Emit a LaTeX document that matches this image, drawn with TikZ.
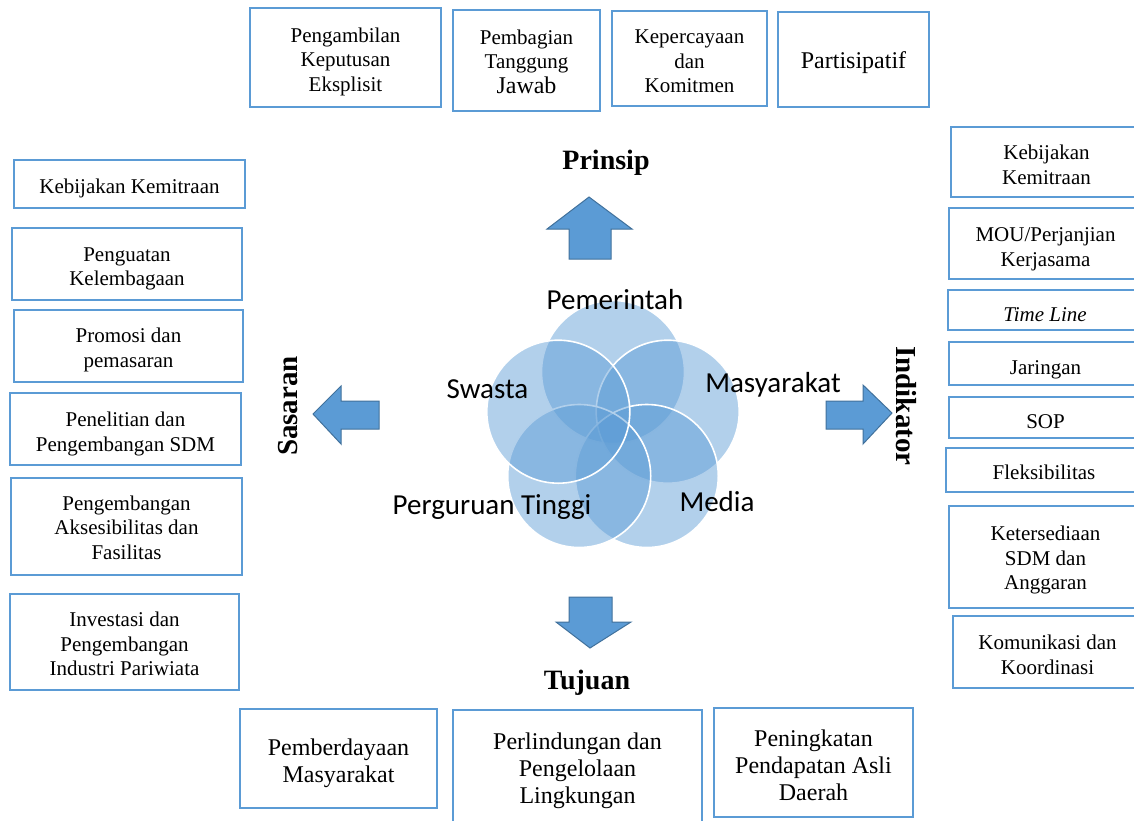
\documentclass[tikz,border=0pt]{standalone}
\usepackage{fontspec}
\setmainfont{Liberation Serif}
\newfontfamily\calfont{Carlito}
\definecolor{boxblue}{HTML}{5B9BD5}
\definecolor{arrowfill}{HTML}{5B9BD5}
\definecolor{arrowline}{HTML}{41719C}
% #1 name, #2 cx, #3 cy, #4 width, #5 height, #6 text style, #7 downward text offset, #8 text
\newcommand\bbox[8]{%
  \node[bx, minimum width=#4pt, minimum height=#5pt] (#1) at (#2,#3) {};
  \node[#6] (#1-t) at ([yshift=-#7pt]#1.center) {#8};}
\begin{document}
\begin{tikzpicture}[x=1pt,y=-1pt,
  bx/.style={draw=boxblue, line width=2.5pt, fill=white, inner sep=0pt},
  btxt/.style={inner sep=0pt, align=center, font=\fontsize{21}{24.5}\selectfont},
  bigtxt/.style={btxt, font=\fontsize{24}{27}\selectfont},
  ttl/.style={font=\fontsize{28}{30}\selectfont\bfseries, inner sep=0pt},
  vlbl/.style={font=\fontsize{29}{30}\selectfont\bfseries, inner sep=0pt},
  circ/.style={fill=boxblue, fill opacity=0.47, draw=white, draw opacity=1, line width=1.6pt},
  clbl/.style={font=\calfont\fontsize{29}{30}\selectfont, inner sep=0pt, anchor=base},
  blockarrow/.style={fill=arrowfill, draw=arrowline, line width=1pt, line join=miter}]
\useasboundingbox (0,0) rectangle (1134,820);
\clip (0,0) rectangle (1134,820);

% top boxes (Prinsip)
\bbox{t1}{345.5}{57.5}{191}{99}{btxt}{4}{Pengambilan\\Keputusan\\Eksplisit}
\bbox{t2}{526.5}{60.5}{147}{101}{btxt}{1}{Pembagian\\Tanggung\\{\fontsize{24}{24.5}\selectfont Jawab}}
\bbox{t3}{689.5}{58.5}{155}{95}{btxt}{3}{Kepercayaan\\dan\\Komitmen}
\bbox{t4}{853.5}{59.5}{151}{95}{bigtxt}{3}{Partisipatif}
\node[ttl, anchor=base] (prinsip) at (606,169) {Prinsip};

% left boxes (Sasaran)
\bbox{l1}{129.5}{184}{231}{48}{btxt}{4}{Kebijakan Kemitraan}
\bbox{l2}{127}{264}{230}{72}{btxt}{5}{Penguatan\\Kelembagaan}
\bbox{l3}{128.5}{346}{229}{72}{btxt}{4}{Promosi dan\\pemasaran}
\bbox{l4}{125.5}{429}{231}{72}{btxt}{5}{Penelitian dan\\Pengembangan SDM}
\bbox{l5}{126.5}{526.5}{231}{97}{btxt}{1}{Pengembangan\\Aksesibilitas dan\\Fasilitas}
\bbox{l6}{124.5}{642}{229}{96}{btxt}{2}{Investasi dan\\Pengembangan\\Industri Pariwiata}
\node[vlbl, rotate=90] (sasaran) at (288,406) {Sasaran};

% right boxes (Indikator)
\bbox{r1}{1046.5}{162}{191}{70}{btxt}{3}{Kebijakan\\Kemitraan}
\bbox{r2}{1045.5}{243.5}{193}{71}{btxt}{6}{MOU/Perjanjian\\Kerjasama}
\bbox{r3}{1045}{310}{194}{40}{btxt}{5}{\itshape Time Line}
\bbox{r4}{1045.5}{363.5}{193}{43}{btxt}{6}{Jaringan}
\bbox{r5}{1045.5}{417.5}{193}{41}{btxt}{4}{SOP}
\bbox{r6}{1044}{470}{196}{44}{btxt}{2}{Fleksibilitas}
\bbox{r7}{1045.5}{557}{193}{102}{btxt}{3}{Ketersediaan\\SDM dan\\Anggaran}
\bbox{r8}{1047.5}{652}{189}{72}{btxt}{3}{Komunikasi dan\\Koordinasi}
\node[vlbl, rotate=-90] (indikator) at (906,406) {Indikator};

% bottom boxes (Tujuan)
\node[ttl, anchor=base] (tujuan) at (587,689) {Tujuan};
\bbox{b1}{338.5}{758.5}{197}{99}{bigtxt}{5}{Pemberdayaan\\Masyarakat}
\bbox{b2}{577.5}{767}{249}{114}{bigtxt}{4}{Perlindungan dan\\Pengelolaan\\Lingkungan}
\bbox{b3}{813.5}{762.5}{199}{109}{bigtxt}{3}{Peningkatan\\Pendapatan Asli\\Daerah}

% block arrows
\draw[blockarrow] (569,259) -- (569,229) -- (547,229) -- (589,197) -- (632,229) -- (611,229) -- (611,259) -- cycle;
\draw[blockarrow] (569,597) -- (612,597) -- (612,622) -- (631,622) -- (590,648) -- (556,622) -- (569,622) -- cycle;
\draw[blockarrow] (379,401) -- (341,401) -- (341,386) -- (313,414) -- (341,444) -- (341,429) -- (379,429) -- cycle;
\draw[blockarrow] (826,401) -- (863,401) -- (863,385) -- (892,413) -- (863,444) -- (863,429) -- (826,429) -- cycle;

% venn circles
\draw[circ] (613,372) circle (71.5pt);
\draw[circ] (667.7,411.7) circle (71.5pt);
\draw[circ] (646.8,476) circle (71.5pt);
\draw[circ] (579.2,476) circle (71.5pt);
\draw[circ] (558.3,411.7) circle (71.5pt);

\node[clbl] (pem) at (615,309) {Pemerintah};
\node[clbl] (swa) at (487.5,398) {Swasta};
\node[clbl] (mas) at (773,392) {Masyarakat};
\node[clbl] (per) at (492,514) {Perguruan Tinggi};
\node[clbl] (med) at (717,511) {Media};
\end{tikzpicture}
\end{document}
